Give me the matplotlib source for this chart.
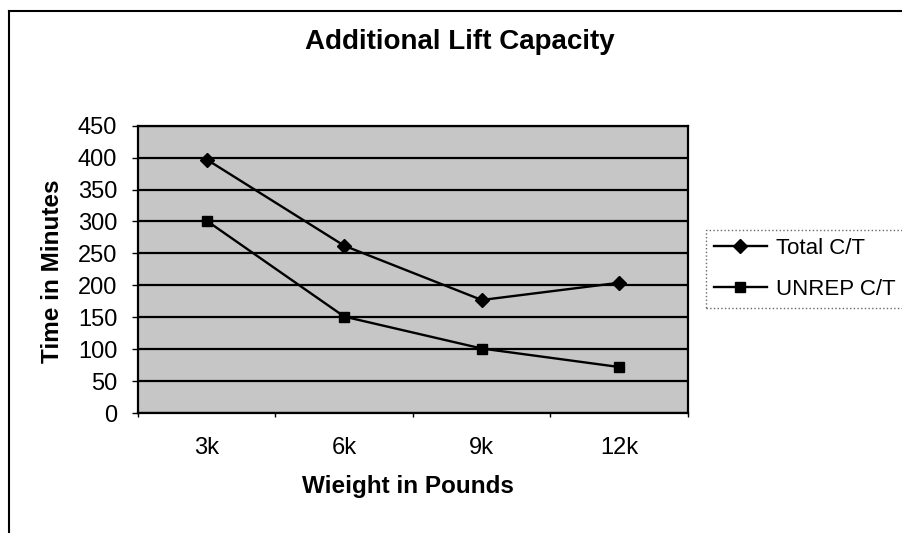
import matplotlib
matplotlib.use("Agg")
import matplotlib.pyplot as plt
from matplotlib.lines import Line2D
import numpy as np

categories = ["3k", "6k", "9k", "12k"]
total_ct = [397, 262, 177, 204]
unrep_ct = [301, 151, 101, 72]
y_ticks = [0, 50, 100, 150, 200, 250, 300, 350, 400, 450]

plt.rcParams['font.family'] = ['Liberation Sans', 'DejaVu Sans']

W, H = 903, 533
fig = plt.figure(figsize=(W/100, H/100), dpi=100)
fig.patch.set_facecolor('white')

ax = fig.add_axes([138/W, 1 - 413/H, (688-138)/W, (413-125.7)/H])
ax.set_facecolor('#c6c6c6')

x = np.arange(len(categories))
ax.plot(x, total_ct, color='black', lw=1.7, marker='D', markersize=7.5, label='Total C/T', zorder=3)
ax.plot(x, unrep_ct, color='black', lw=1.7, marker='s', markersize=7, label='UNREP C/T', zorder=3)

ax.set_xlim(-0.5, len(categories) - 0.5)
ax.set_ylim(0, 450)
ax.set_yticks(y_ticks)
ax.set_yticklabels([str(v) for v in y_ticks], fontsize=17)
ax.set_xticks(x)
ax.set_xticklabels(categories, fontsize=17)
ax.set_xticks(np.arange(-0.5, len(categories), 1), minor=True)
ax.tick_params(axis='x', which='major', length=0, pad=17)
ax.tick_params(axis='x', which='minor', length=3, width=1, direction='out')
ax.tick_params(axis='y', length=4, width=1, direction='out', pad=11)

ax.yaxis.grid(True, color='black', lw=1.6)
ax.set_axisbelow(False)
for s in ax.spines.values():
    s.set_color('black')
    s.set_linewidth(1.6)

fig.text(408/W, 1 - 487/H, 'Wieight in Pounds', ha='center', va='center',
         fontsize=17.5, fontweight='bold')
fig.text(53/W, 1 - 271/H, 'Time in Minutes', ha='center', va='center',
         rotation=90, fontsize=17.5, fontweight='bold')
fig.text(460/W, 1 - 42/H, 'Additional Lift Capacity', ha='center', va='center',
         fontsize=20, fontweight='bold')

leg = fig.legend(loc='upper left', bbox_to_anchor=(706/W, 1 - 230/H), fontsize=16,
                 frameon=True, fancybox=False, handlelength=2.4, handletextpad=0.4,
                 borderpad=0.35, labelspacing=0.9, borderaxespad=0)
leg.get_frame().set_edgecolor('#444444')
leg.get_frame().set_linestyle(':')
leg.get_frame().set_linewidth(1)

# outer chart border (left and top only visible)
fig.add_artist(Line2D([9/W, 9/W], [0, 1 - 11/H], color='black', lw=1.5, transform=fig.transFigure))
fig.add_artist(Line2D([9/W, 1], [1 - 11/H, 1 - 11/H], color='black', lw=1.5, transform=fig.transFigure))

fig.savefig('out.png', dpi=100)
